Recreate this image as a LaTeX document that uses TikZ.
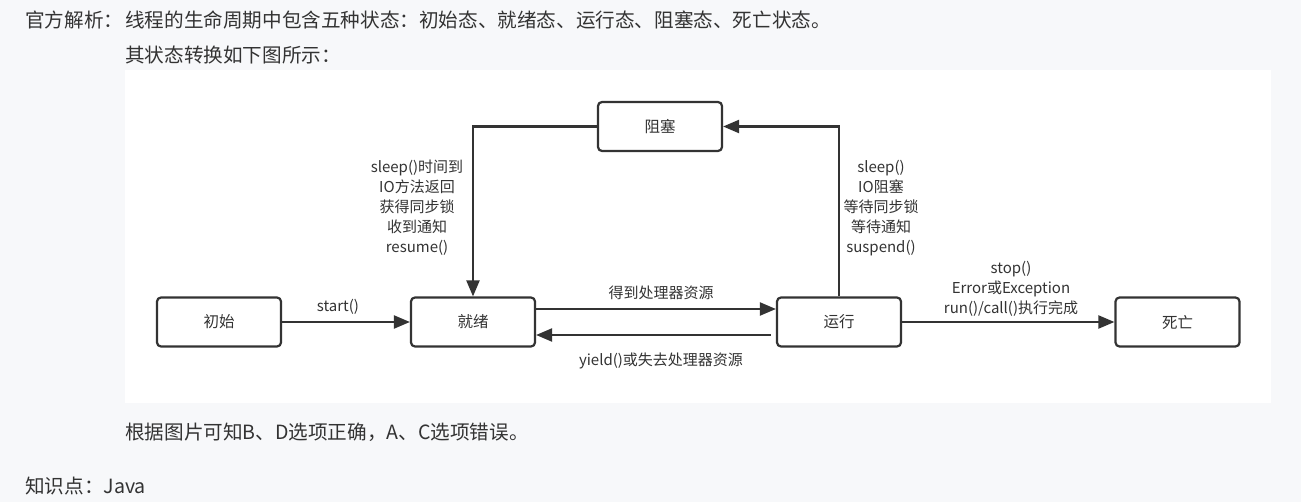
\documentclass[tikz,border=0pt]{standalone}
\usepackage{fontspec}
\setmainfont{Noto Sans CJK SC}
\usetikzlibrary{arrows.meta,positioning,calc}
\definecolor{pagebg}{RGB}{247,248,250}
\definecolor{ink}{RGB}{51,51,51}
\definecolor{edge}{RGB}{51,51,51}

\begin{document}
\begin{tikzpicture}[x=1pt,y=-1pt,
  state/.style={draw=edge,line width=2.2pt,rounded corners=4pt,fill=white,
    minimum width=124pt,minimum height=49pt,inner sep=0pt,text=ink,
    font=\fontsize{15.5}{18}\selectfont},
  trans/.style={edge,line width=2.2pt,-{Triangle[length=16pt,width=13pt]}},
  lbl/.style={text=ink,font=\fontsize{15}{20}\selectfont,align=center,inner sep=0pt},
  para/.style={text=ink,font=\fontsize{19.6}{22}\selectfont,anchor=west,inner sep=0pt}]
  \fill[pagebg] (0,0) rectangle (1301,502);
  \fill[white] (125,70) rectangle (1271,403);
  \node[para] (head)   at (25,20)  {官方解析：};
  \node[para] (intro)  at (125,20) {线程的生命周期中包含五种状态：初始态、就绪态、运行态、阻塞态、死亡状态。};
  \node[para] (intro2) at (125,55) {其状态转换如下图所示：};
  \node[state] (init)  at (219,322)    {初始};
  \node[state] (ready) at (473,322)    {就绪};
  \node[state] (run)   at (839,322)    {运行};
  \node[state] (dead)  at (1177.5,322) {死亡};
  \node[state] (block) at (660,126.5)  {阻塞};
  \draw[trans] (init) -- (ready);
  \draw[trans] ($(ready.east)+(0,-13)$) -- ($(run.west)+(0,-13)$);
  \draw[trans] ($(run.west)+(-5,13)$) -- ($(ready.east)+(0,13)$);
  \draw[trans] (run.north) |- (block.east);
  \draw[trans] (block.west) -| (ready.north);
  \draw[trans] (run) -- (dead);
  \node[lbl] (lstart) at (338,307) {start()};
  \node[lbl] (lget)   at (661,293) {得到处理器资源};
  \node[lbl] (lyield) at (661,361) {yield()或失去处理器资源};
  \node[lbl] (lwake)  at (417,208) {sleep()时间到\\IO方法返回\\获得同步锁\\收到通知\\resume()};
  \node[lbl] (lwait)  at (881,208) {sleep()\\IO阻塞\\等待同步锁\\等待通知\\suspend()};
  \node[lbl] (lend)   at (1011,289) {stop()\\Error或Exception\\run()/call()执行完成};
  \node[para] (concl) at (125,432) {根据图片可知B、D选项正确，A、C选项错误。};
  \node[para] (topic) at (25,486)  {知识点：Java};
\end{tikzpicture}
\end{document}
